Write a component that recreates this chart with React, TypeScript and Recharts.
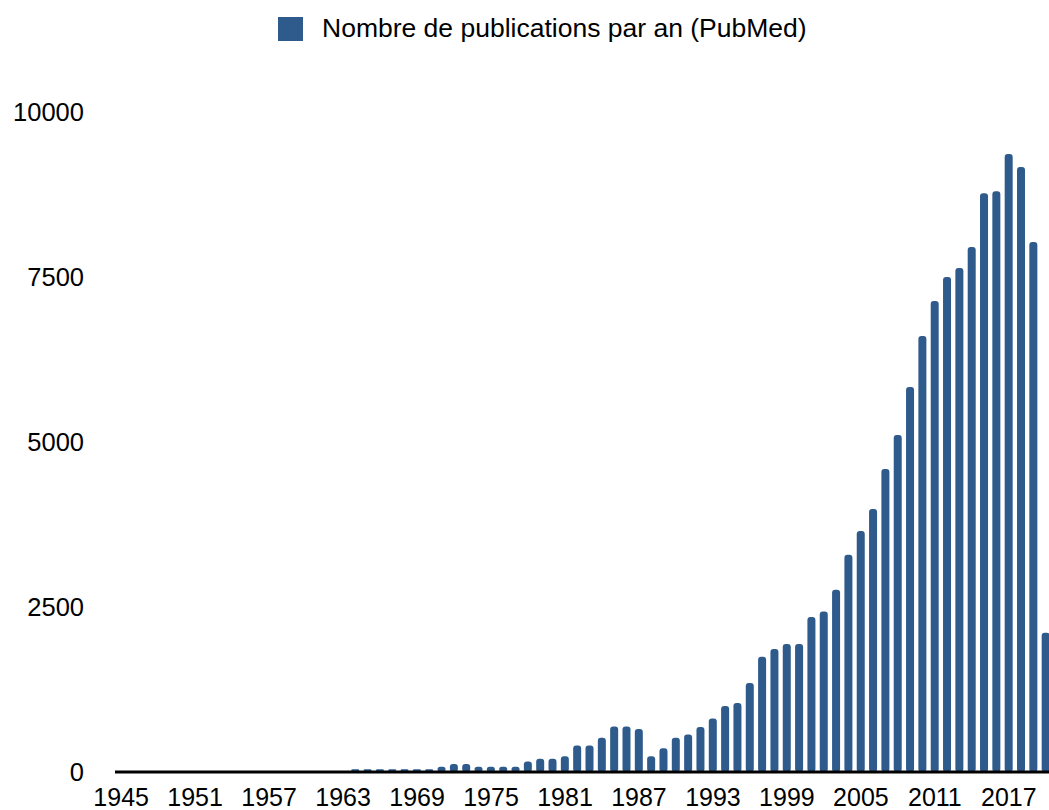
import { BarChart, Bar, XAxis, YAxis, Legend } from 'recharts';

const years = [
  1945, 1946, 1947, 1948, 1949, 1950, 1951, 1952, 1953, 1954,
  1955, 1956, 1957, 1958, 1959, 1960, 1961, 1962, 1963, 1964,
  1965, 1966, 1967, 1968, 1969, 1970, 1971, 1972, 1973, 1974,
  1975, 1976, 1977, 1978, 1979, 1980, 1981, 1982, 1983, 1984,
  1985, 1986, 1987, 1988, 1989, 1990, 1991, 1992, 1993, 1994,
  1995, 1996, 1997, 1998, 1999, 2000, 2001, 2002, 2003, 2004,
  2005, 2006, 2007, 2008, 2009, 2010, 2011, 2012, 2013, 2014,
  2015, 2016, 2017, 2018, 2019, 2020,
];

const publications = [
  0, 0, 0, 0, 0, 0, 0, 0, 0, 0,
  0, 0, 0, 0, 0, 0, 0, 0, 0, 40,
  40, 40, 40, 40, 40, 40, 80, 120, 120, 80,
  80, 80, 80, 160, 200, 200, 240, 400, 400, 520,
  690, 690, 650, 240, 360, 520, 570, 680, 810, 1000,
  1045, 1350, 1745, 1865, 1940, 1940, 2350, 2430, 2760, 3290,
  3650, 3985, 4590, 5105, 5835, 6605, 7135, 7500, 7635, 7955,
  8770, 8800, 9365, 9165, 8030, 2110,
];

const yTicks = [0, 2500, 5000, 7500, 10000];
const seriesName = 'Nombre de publications par an (PubMed)';

const data = years.map((y, i) => ({ year: String(y), value: publications[i] }));

const FONT = '"Liberation Sans", Arial, Helvetica, sans-serif';
const BLUE = '#2e5a8c';

function LegendContent({ payload }: any) {
  return (
    <div style={{ display: 'flex', alignItems: 'center', fontFamily: FONT }}>
      {(payload || []).map((p: any) => (
        <div key={p.value} style={{ display: 'flex', alignItems: 'center' }}>
          <span style={{ width: 25, height: 24, background: BLUE, display: 'inline-block', marginRight: 19 }} />
          <span style={{ fontSize: 26.5, color: '#000', whiteSpace: 'nowrap' }}>{p.value}</span>
        </div>
      ))}
    </div>
  );
}

export default function App() {
  return (
    <div style={{ position: 'fixed', left: 0, top: 0, width: 1049, height: 810, overflow: 'hidden', background: '#fff' }}>
      <BarChart
        width={1052}
        height={810}
        data={data}
        margin={{ top: 112, right: 0, bottom: 0, left: 0 }}
      >
        <Legend
          verticalAlign="middle"
          align="center"
          layout="horizontal"
          content={<LegendContent />}
          wrapperStyle={{ top: 13, left: 278, width: 'auto' }}
        />
        <XAxis
          dataKey="year"
          interval={5}
          height={38}
          tickSize={0}
          tickMargin={16}
          tickLine={false}
          axisLine={{ stroke: '#000', strokeWidth: 3 }}
          tick={{ fontSize: 25, fill: '#000', fontFamily: FONT }}
        />
        <YAxis
          width={115}
          domain={[0, 10000]}
          ticks={yTicks}
          tickSize={0}
          tickMargin={31}
          axisLine={false}
          tickLine={false}
          tick={{ fontSize: 25.5, fill: '#000', fontFamily: FONT }}
        />
        <Bar
          dataKey="value"
          name={seriesName}
          fill={BLUE}
          barSize={8}
          radius={3}
          isAnimationActive={false}
        />
      </BarChart>
    </div>
  );
}
